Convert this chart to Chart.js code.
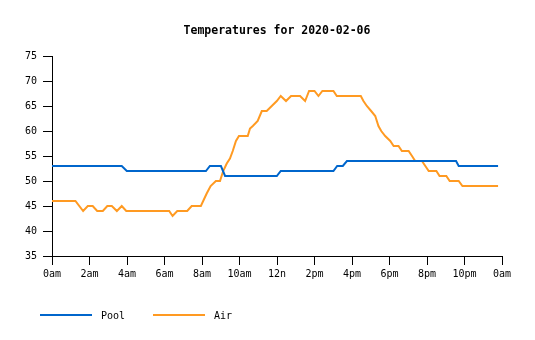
<!DOCTYPE html>
<html>
<head>
<meta charset="utf-8">
<script src="https://cdn.jsdelivr.net/npm/chart.js@4.4.0/dist/chart.umd.min.js"></script>
<style>
html, body { margin: 0; padding: 0; background: #fff; }
</style>
</head>
<body>
<canvas id="chartCanvas" width="535" height="340"></canvas>
<script>
const chartTitle = "Temperatures for 2020-02-06";
const seriesNames = ["Pool", "Air"];
const tickLabels = ["0am", "2am", "4am", "6am", "8am", "10am", "12n", "2pm", "4pm", "6pm", "8pm", "10pm", "0am"];

// hours since midnight, degrees
const poolTimes = [0, 3.72, 3.99, 8.21, 8.42, 9.01, 9.23, 11.99, 12.20, 15.01, 15.21, 15.51, 15.73, 21.55, 21.69, 23.79];
const poolTemps = [53, 53, 52, 52, 53, 53, 51, 51, 52, 52, 53, 53, 54, 54, 53, 53];

const airTimes = [0, 1.25, 1.66, 1.91, 2.17, 2.41, 2.71, 2.95, 3.19, 3.46, 3.72, 3.96, 6.25, 6.43, 6.68, 7.21, 7.45, 7.94,
  8.25, 8.46, 8.74, 8.96, 9.13, 9.32, 9.49, 9.64, 9.81, 9.97, 10.44, 10.56, 10.71, 10.97, 11.19, 11.45, 11.72, 11.99,
  12.20, 12.48, 12.75, 13.23, 13.50, 13.71, 14.00, 14.21, 14.42, 15.01, 15.19, 16.47, 16.61, 16.79, 17.02, 17.24, 17.41,
  17.56, 17.77, 18.04, 18.22, 18.48, 18.66, 19.02, 19.20, 19.37, 19.73, 19.91, 20.09, 20.50, 20.67, 21.03, 21.21, 21.69,
  21.89, 23.79];
const airTemps = [46, 46, 44, 45, 45, 44, 44, 45, 45, 44, 45, 44, 44, 43, 44, 44, 45, 45,
  47.5, 49, 50, 50, 52, 53.5, 54.5, 56, 58, 59, 59, 60.5, 61, 62, 64, 64, 65, 66,
  67, 66, 67, 67, 66, 68, 68, 67, 68, 68, 67, 67, 66, 65, 64, 63, 61,
  60, 59, 58, 57, 57, 56, 56, 55, 54, 54, 53, 52, 52, 51, 51, 50, 50,
  49, 49];

const lineColors = ["#0066cc", "#ff9a22"];

function toPoints(times, temps) {
  return times.map((t, i) => ({ x: t, y: temps[i] }));
}

const monoFont = '"DejaVu Sans Mono", "Liberation Mono", monospace';

// title and legend drawn by hand so they sit where the original put them
const extras = {
  id: 'extras',
  afterDraw(chart) {
    const ctx = chart.ctx;
    const area = chart.chartArea;
    ctx.save();
    ctx.fillStyle = '#000';
    ctx.font = 'bold 11.5px ' + monoFont;
    ctx.textAlign = 'center';
    ctx.textBaseline = 'middle';
    ctx.fillText(chartTitle, (area.left + area.right) / 2, 31);

    const starts = [40, 153];
    ctx.font = '10px ' + monoFont;
    ctx.textAlign = 'left';
    chart.data.datasets.forEach((ds, i) => {
      const x = starts[i];
      ctx.strokeStyle = ds.borderColor;
      ctx.lineWidth = 2;
      ctx.beginPath();
      ctx.moveTo(x, 315);
      ctx.lineTo(x + 52, 315);
      ctx.stroke();
      ctx.fillText(ds.label, x + 61, 316);
    });
    ctx.restore();
  }
};

const ctx = document.getElementById('chartCanvas').getContext('2d');
new Chart(ctx, {
  type: 'line',
  data: {
    datasets: [
      { label: seriesNames[0], data: toPoints(poolTimes, poolTemps), borderColor: lineColors[0] },
      { label: seriesNames[1], data: toPoints(airTimes, airTemps), borderColor: lineColors[1] }
    ]
  },
  plugins: [extras],
  options: {
    responsive: false,
    animation: false,
    layout: { padding: { top: 56, right: 33, bottom: 54, left: 0 } },
    elements: {
      line: { borderWidth: 2, tension: 0, fill: false },
      point: { radius: 0 }
    },
    plugins: {
      legend: { display: false },
      title: { display: false },
      tooltip: { enabled: false }
    },
    scales: {
      x: {
        type: 'linear',
        min: 0,
        max: 24,
        afterFit: s => { s.height = 30; },
        afterBuildTicks: s => { s.ticks = tickLabels.map((_, i) => ({ value: i * 2 })); },
        ticks: {
          autoSkip: false,
          maxRotation: 0,
          padding: 3,
          color: '#000',
          font: { family: monoFont, size: 10 },
          callback: (v, i) => tickLabels[i]
        },
        grid: { drawOnChartArea: false, drawTicks: true, tickLength: 9, color: '#000' },
        border: { display: true, color: '#000', width: 1 }
      },
      y: {
        min: 35,
        max: 75,
        afterFit: s => { s.width = 52; },
        ticks: {
          stepSize: 5,
          padding: 6,
          color: '#000',
          font: { family: monoFont, size: 10 }
        },
        grid: { drawOnChartArea: false, drawTicks: true, tickLength: 9, color: '#000' },
        border: { display: true, color: '#000', width: 1 }
      }
    }
  }
});
</script>
</body>
</html>
